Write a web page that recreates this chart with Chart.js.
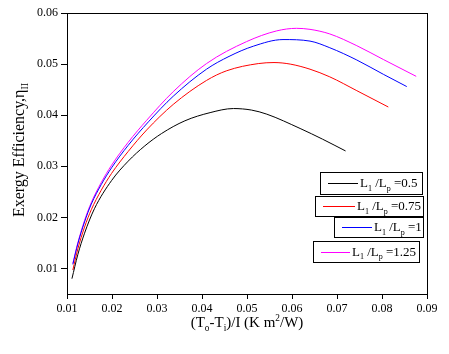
<!DOCTYPE html>
<html>
<head>
<meta charset="utf-8">
<script src="https://cdn.jsdelivr.net/npm/chart.js@4/dist/chart.umd.min.js"></script>
<style>
html,body{margin:0;padding:0;background:#fff;}
canvas{display:block;}
</style>
</head>
<body>
<canvas id="c" width="449" height="354"></canvas>
<script>
// ---- data ----
const xTicks = [0.01, 0.02, 0.03, 0.04, 0.05, 0.06, 0.07, 0.08, 0.09];
const yTicks = [0.01, 0.02, 0.03, 0.04, 0.05, 0.06];

const legendValues = ["0.5", "0.75", "1", "1.25"];
const seriesColors = ["#000000", "#ff0000", "#0000ff", "#ff00ff"];

const x05 = [0.0111, 0.0124, 0.0139, 0.0161, 0.0199, 0.0236, 0.0273, 0.0310, 0.0362, 0.0418, 0.0470, 0.0510, 0.0544, 0.0618, 0.0668, 0.0719];
const y05 = [0.0080, 0.0127, 0.0169, 0.0217, 0.0272, 0.0310, 0.0340, 0.0364, 0.0389, 0.0405, 0.0413, 0.0410, 0.0402, 0.0374, 0.0353, 0.0330];

const x075 = [0.0113, 0.0124, 0.0139, 0.0154, 0.0176, 0.0199, 0.0236, 0.0277, 0.0336, 0.0410, 0.0455, 0.0525, 0.0560, 0.0596, 0.0640, 0.0684, 0.0744, 0.0814];
const y075 = [0.0097, 0.0138, 0.0181, 0.0215, 0.0253, 0.0286, 0.0329, 0.0371, 0.0421, 0.0468, 0.0487, 0.0501, 0.0503, 0.0500, 0.0490, 0.0475, 0.0448, 0.0416];

const x1 = [0.0113, 0.0124, 0.0139, 0.0154, 0.0176, 0.0199, 0.0236, 0.0281, 0.0336, 0.0410, 0.0460, 0.0514, 0.0580, 0.0640, 0.0684, 0.0744, 0.0803, 0.0855];
const y1 = [0.0108, 0.0148, 0.0191, 0.0226, 0.0264, 0.0297, 0.0341, 0.0387, 0.0437, 0.0490, 0.0515, 0.0535, 0.0548, 0.0545, 0.0532, 0.0508, 0.0480, 0.0456];

const x125 = [0.0113, 0.0124, 0.0139, 0.0154, 0.0176, 0.0199, 0.0236, 0.0277, 0.0336, 0.0410, 0.0499, 0.0566, 0.0610, 0.0640, 0.0684, 0.0744, 0.0803, 0.0876];
const y125 = [0.0110, 0.0150, 0.0194, 0.0229, 0.0268, 0.0302, 0.0347, 0.0390, 0.0446, 0.0501, 0.0544, 0.0565, 0.0570, 0.0568, 0.0559, 0.0536, 0.0509, 0.0476];

const seriesX = [x05, x075, x1, x125];
const seriesY = [y05, y075, y1, y125];

// ---- helpers ----
const SERIF = "'Liberation Serif','Times New Roman',serif";
function pts(xs, ys){ return xs.map((x,i)=>({x:x, y:ys[i]})); }

function drawRich(ctx, parts, x, y, size){
  let cx = x;
  for (const p of parts){
    const s = p.mode === 'n' ? size : size*0.62;
    ctx.font = s + "px " + SERIF;
    const dy = p.mode === 'sub' ? size*0.28 : (p.mode === 'sup' ? -size*0.38 : 0);
    ctx.fillText(p.t, cx, y + dy);
    cx += ctx.measureText(p.t).width;
  }
  return cx - x;
}
function measureRich(ctx, parts, size){
  let w = 0;
  for (const p of parts){
    const s = p.mode === 'n' ? size : size*0.62;
    ctx.font = s + "px " + SERIF;
    w += ctx.measureText(p.t).width;
  }
  return w;
}

const decorPlugin = {
  id: 'decor',
  afterDraw(chart){
    const ctx = chart.ctx;
    const a = chart.chartArea;
    ctx.save();
    ctx.strokeStyle = '#000';
    ctx.lineWidth = 1;
    ctx.strokeRect(Math.round(a.left)+0.5, Math.round(a.top)+0.5, Math.round(a.right-a.left), Math.round(a.bottom-a.top));
    ctx.fillStyle = '#000';
    ctx.textBaseline = 'alphabetic';
    // x title
    const xt = [{t:'(T',mode:'n'},{t:'o',mode:'sub'},{t:'-T',mode:'n'},{t:'i',mode:'sub'},{t:')/I (K m',mode:'n'},{t:'2',mode:'sup'},{t:'/W)',mode:'n'}];
    const xs = 15;
    const xw = measureRich(ctx, xt, xs);
    drawRich(ctx, xt, 247 - xw/2, 327, xs);
    // y title
    const yt = [{t:'Exergy Efficiency,\u03B7',mode:'n'},{t:'II',mode:'sub'}];
    const ys = 16;
    const yw = measureRich(ctx, yt, ys);
    ctx.save();
    ctx.translate(24, 150);
    ctx.rotate(-Math.PI/2);
    drawRich(ctx, yt, -yw/2, 0, ys);
    ctx.restore();
    // legend boxes (staggered, as in the reference)
    const boxes = [
      {x:320, y:172, w:102, h:22},
      {x:315, y:196, w:108, h:20},
      {x:334, y:217, w:89, h:20},
      {x:313, y:241, w:106, h:21}
    ];
    const lineLen = [30, 32, 30, 29];
    chart.data.datasets.forEach((ds, i) => {
      const b = boxes[i];
      ctx.fillStyle = '#fff';
      ctx.fillRect(b.x, b.y, b.w, b.h);
      ctx.strokeStyle = '#000';
      ctx.lineWidth = 1;
      ctx.strokeRect(b.x+0.5, b.y+0.5, b.w, b.h);
      const cy = b.y + b.h/2;
      ctx.strokeStyle = ds.borderColor;
      ctx.beginPath();
      ctx.moveTo(b.x + 8, Math.round(cy)+0.5);
      ctx.lineTo(b.x + 8 + lineLen[i], Math.round(cy)+0.5);
      ctx.stroke();
      ctx.fillStyle = '#000';
      const parts = [{t:'L',mode:'n'},{t:'1',mode:'sub'},{t:' /L',mode:'n'},{t:'p',mode:'sub'},{t:' =' + legendValues[i],mode:'n'}];
      drawRich(ctx, parts, b.x + 10 + lineLen[i], cy + 4, 13);
    });
    ctx.restore();
  }
};

const datasets = seriesX.map((xs, i) => ({
  label: 'L1/Lp=' + legendValues[i],
  data: pts(xs, seriesY[i]),
  borderColor: seriesColors[i],
  backgroundColor: seriesColors[i],
  borderWidth: 1,
  pointRadius: 0,
  fill: false,
  cubicInterpolationMode: 'monotone'
}));

new Chart(document.getElementById('c'), {
  type: 'line',
  data: { datasets: datasets },
  options: {
    responsive: false,
    animation: false,
    devicePixelRatio: 1,
    layout: { padding: { left: 0, right: 22, top: 13, bottom: 0 } },
    plugins: { legend: { display: false }, tooltip: { enabled: false } },
    scales: {
      x: {
        type: 'linear',
        min: 0.01, max: 0.09,
        afterBuildTicks: s => { s.ticks = xTicks.map(v => ({ value: v })); },
        afterFit: s => { s.height = 60; },
        ticks: { callback: v => v.toFixed(2), color: '#000', font: { family: SERIF, size: 12 }, maxRotation: 0, padding: 3 },
        grid: { drawOnChartArea: false, drawTicks: true, tickLength: 5, color: '#000', tickColor: '#000' },
        border: { display: true, color: '#000', width: 1 }
      },
      y: {
        type: 'linear',
        min: 0.005, max: 0.06,
        afterBuildTicks: s => { s.ticks = yTicks.map(v => ({ value: v })); },
        afterFit: s => { s.width = 67; },
        ticks: { callback: v => v.toFixed(2), color: '#000', font: { family: SERIF, size: 12 }, padding: 3 },
        grid: { drawOnChartArea: false, drawTicks: true, tickLength: 6, color: '#000', tickColor: '#000' },
        border: { display: true, color: '#000', width: 1 }
      }
    }
  },
  plugins: [decorPlugin]
});
</script>
</body>
</html>
